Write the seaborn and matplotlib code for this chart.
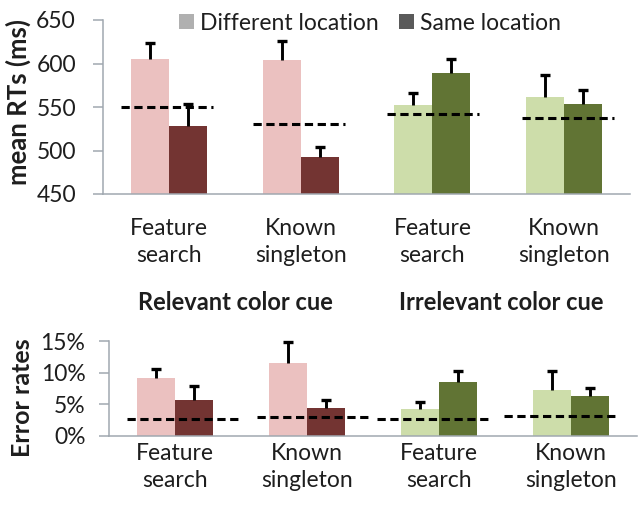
import matplotlib
matplotlib.use('Agg')
import matplotlib.pyplot as plt
from matplotlib.patches import Patch
from matplotlib.ticker import PercentFormatter, FixedLocator
import seaborn as sns
import numpy as np
import pandas as pd

# conditions (x order) and their tick labels
conditions = ['rel_feature', 'rel_known', 'irr_feature', 'irr_known']
tick_labels = ['Feature\nsearch', 'Known\nsingleton', 'Feature\nsearch', 'Known\nsingleton']
groups = ['Relevant color cue', 'Irrelevant color cue']
locations = ['Different location', 'Same location']

# mean RTs (ms)
rt_diff = [605, 604, 552, 562]
rt_same = [528, 492, 589, 554]
rt_diff_err = [18, 22, 14, 25]
rt_same_err = [26, 12, 16, 16]
rt_baseline = [550, 531, 542, 537]

# error rates (%)
er_diff = [9.1, 11.6, 4.3, 7.3]
er_same = [5.7, 4.5, 8.6, 6.3]
er_diff_err = [1.5, 3.3, 1.0, 2.9]
er_same_err = [2.2, 1.2, 1.6, 1.3]
er_baseline = [2.7, 3.05, 2.7, 3.1]

light_cols = ['#EBC1C0', '#EBC1C0', '#CDDDAA', '#CDDDAA']
dark_cols = ['#733432', '#733432', '#617434', '#617434']
legend_cols = ['#B0B0B0', '#5A5A5A']
spine_col = '#A0A8B0'
text_col = '#1E1E1E'

sns.set_style('white')
plt.rcParams['font.family'] = ['Lato', 'DejaVu Sans']
plt.rcParams['font.size'] = 16.5
plt.rcParams['text.color'] = text_col

fig = plt.figure(figsize=(6.41, 5.14), dpi=100)
ax1 = fig.add_axes([103 / 641, 1 - 194 / 514, 527 / 641, 174 / 514])
ax2 = fig.add_axes([109 / 641, 1 - 436 / 514, 528 / 641, 95 / 514])


def panel(ax, diff, same, diff_err, same_err, base, ylim, yticks, half, shifts, label_pad, ypad):
    df = pd.DataFrame({
        'cond': conditions * 2,
        'loc': [locations[0]] * 4 + [locations[1]] * 4,
        'val': diff + same,
    })
    sns.barplot(data=df, x='cond', y='val', hue='loc', order=conditions,
                hue_order=locations, palette=legend_cols, width=0.576, gap=0,
                errorbar=None, legend=False, saturation=1, ax=ax)
    for cont, cols, errs in zip(ax.containers, [light_cols, dark_cols], [diff_err, same_err]):
        xs, ys = [], []
        for p, c in zip(cont.patches, cols):
            p.set_facecolor(c)
            p.set_edgecolor('none')
            xs.append(p.get_x() + p.get_width() / 2)
            ys.append(p.get_height())
        xs = np.array(xs)
        ys = np.array(ys)
        tops = ys + np.array(errs)
        # upward-only error bars with a cap on top
        ax.vlines(xs, ys, tops, colors='black', linewidth=2.1, zorder=3, clip_on=False)
        ax.plot(xs, tops, linestyle='none', marker='_', markersize=7.5,
                markeredgewidth=2.4, color='black', zorder=3, clip_on=False)
    centers = np.arange(len(conditions)) + np.array(shifts)
    ax.hlines(base, centers - half, centers + half, colors='black',
              linewidth=2.2, linestyles=(0, (2.7, 1.5)), zorder=4)

    ax.set_xlim(-0.5, 3.5)
    ax.set_ylim(*ylim)
    ax.set_yticks(yticks)
    ax.set_xticks(range(4))
    ax.set_xticklabels(tick_labels, linespacing=1.35)
    ax.xaxis.set_minor_locator(FixedLocator([-0.5, 0.5, 1.5, 2.5, 3.5]))
    ax.tick_params(axis='x', which='major', length=0, pad=label_pad, colors=text_col)
    ax.tick_params(axis='x', which='minor', length=7, width=1.1, color=spine_col, direction='out')
    ax.tick_params(axis='y', length=7, width=1.1, color=spine_col, pad=ypad,
                   labelcolor=text_col, direction='out', left=True)
    ax.set_xlabel('')
    ax.set_ylabel('')
    for s in ['top', 'right']:
        ax.spines[s].set_visible(False)
    for s in ['left', 'bottom']:
        ax.spines[s].set_color(spine_col)
        ax.spines[s].set_linewidth(1.1)
    ax.patch.set_alpha(0)


panel(ax1, rt_diff, rt_same, rt_diff_err, rt_same_err, rt_baseline,
      (450, 650), [450, 500, 550, 600, 650], 0.35, [-0.015, -0.01, 0.005, 0.03], 17, 12.5)
panel(ax2, er_diff, er_same, er_diff_err, er_same_err, er_baseline,
      (0, 15), [0, 5, 10, 15], 0.43, [0.065, 0.05, -0.04, -0.08], 5, 10)
ax2.yaxis.set_major_formatter(PercentFormatter(decimals=0))

fig.text(18.5 / 641, 1 - 102 / 514, 'mean RTs (ms)', rotation=90, ha='center',
         va='center', fontweight='bold', fontsize=18.5)
fig.text(23 / 641, 1 - 398 / 514, 'Error rates', rotation=90, ha='center',
         va='center', fontweight='bold', fontsize=18)
fig.text(235 / 641, 1 - 303 / 514, groups[0], ha='center', va='center',
         fontweight='bold', fontsize=17)
fig.text(501 / 641, 1 - 303 / 514, groups[1], ha='center', va='center',
         fontweight='bold', fontsize=17)

handles = [Patch(facecolor=c, edgecolor='none') for c in legend_cols]
fig.legend(handles, locations, loc='center', bbox_to_anchor=(370 / 641, 1 - 23 / 514),
           ncol=2, frameon=False, handlelength=0.65, handleheight=0.65,
           handletextpad=0.25, columnspacing=0.9, borderaxespad=0, borderpad=0)

fig.savefig('out.png', dpi=100)
